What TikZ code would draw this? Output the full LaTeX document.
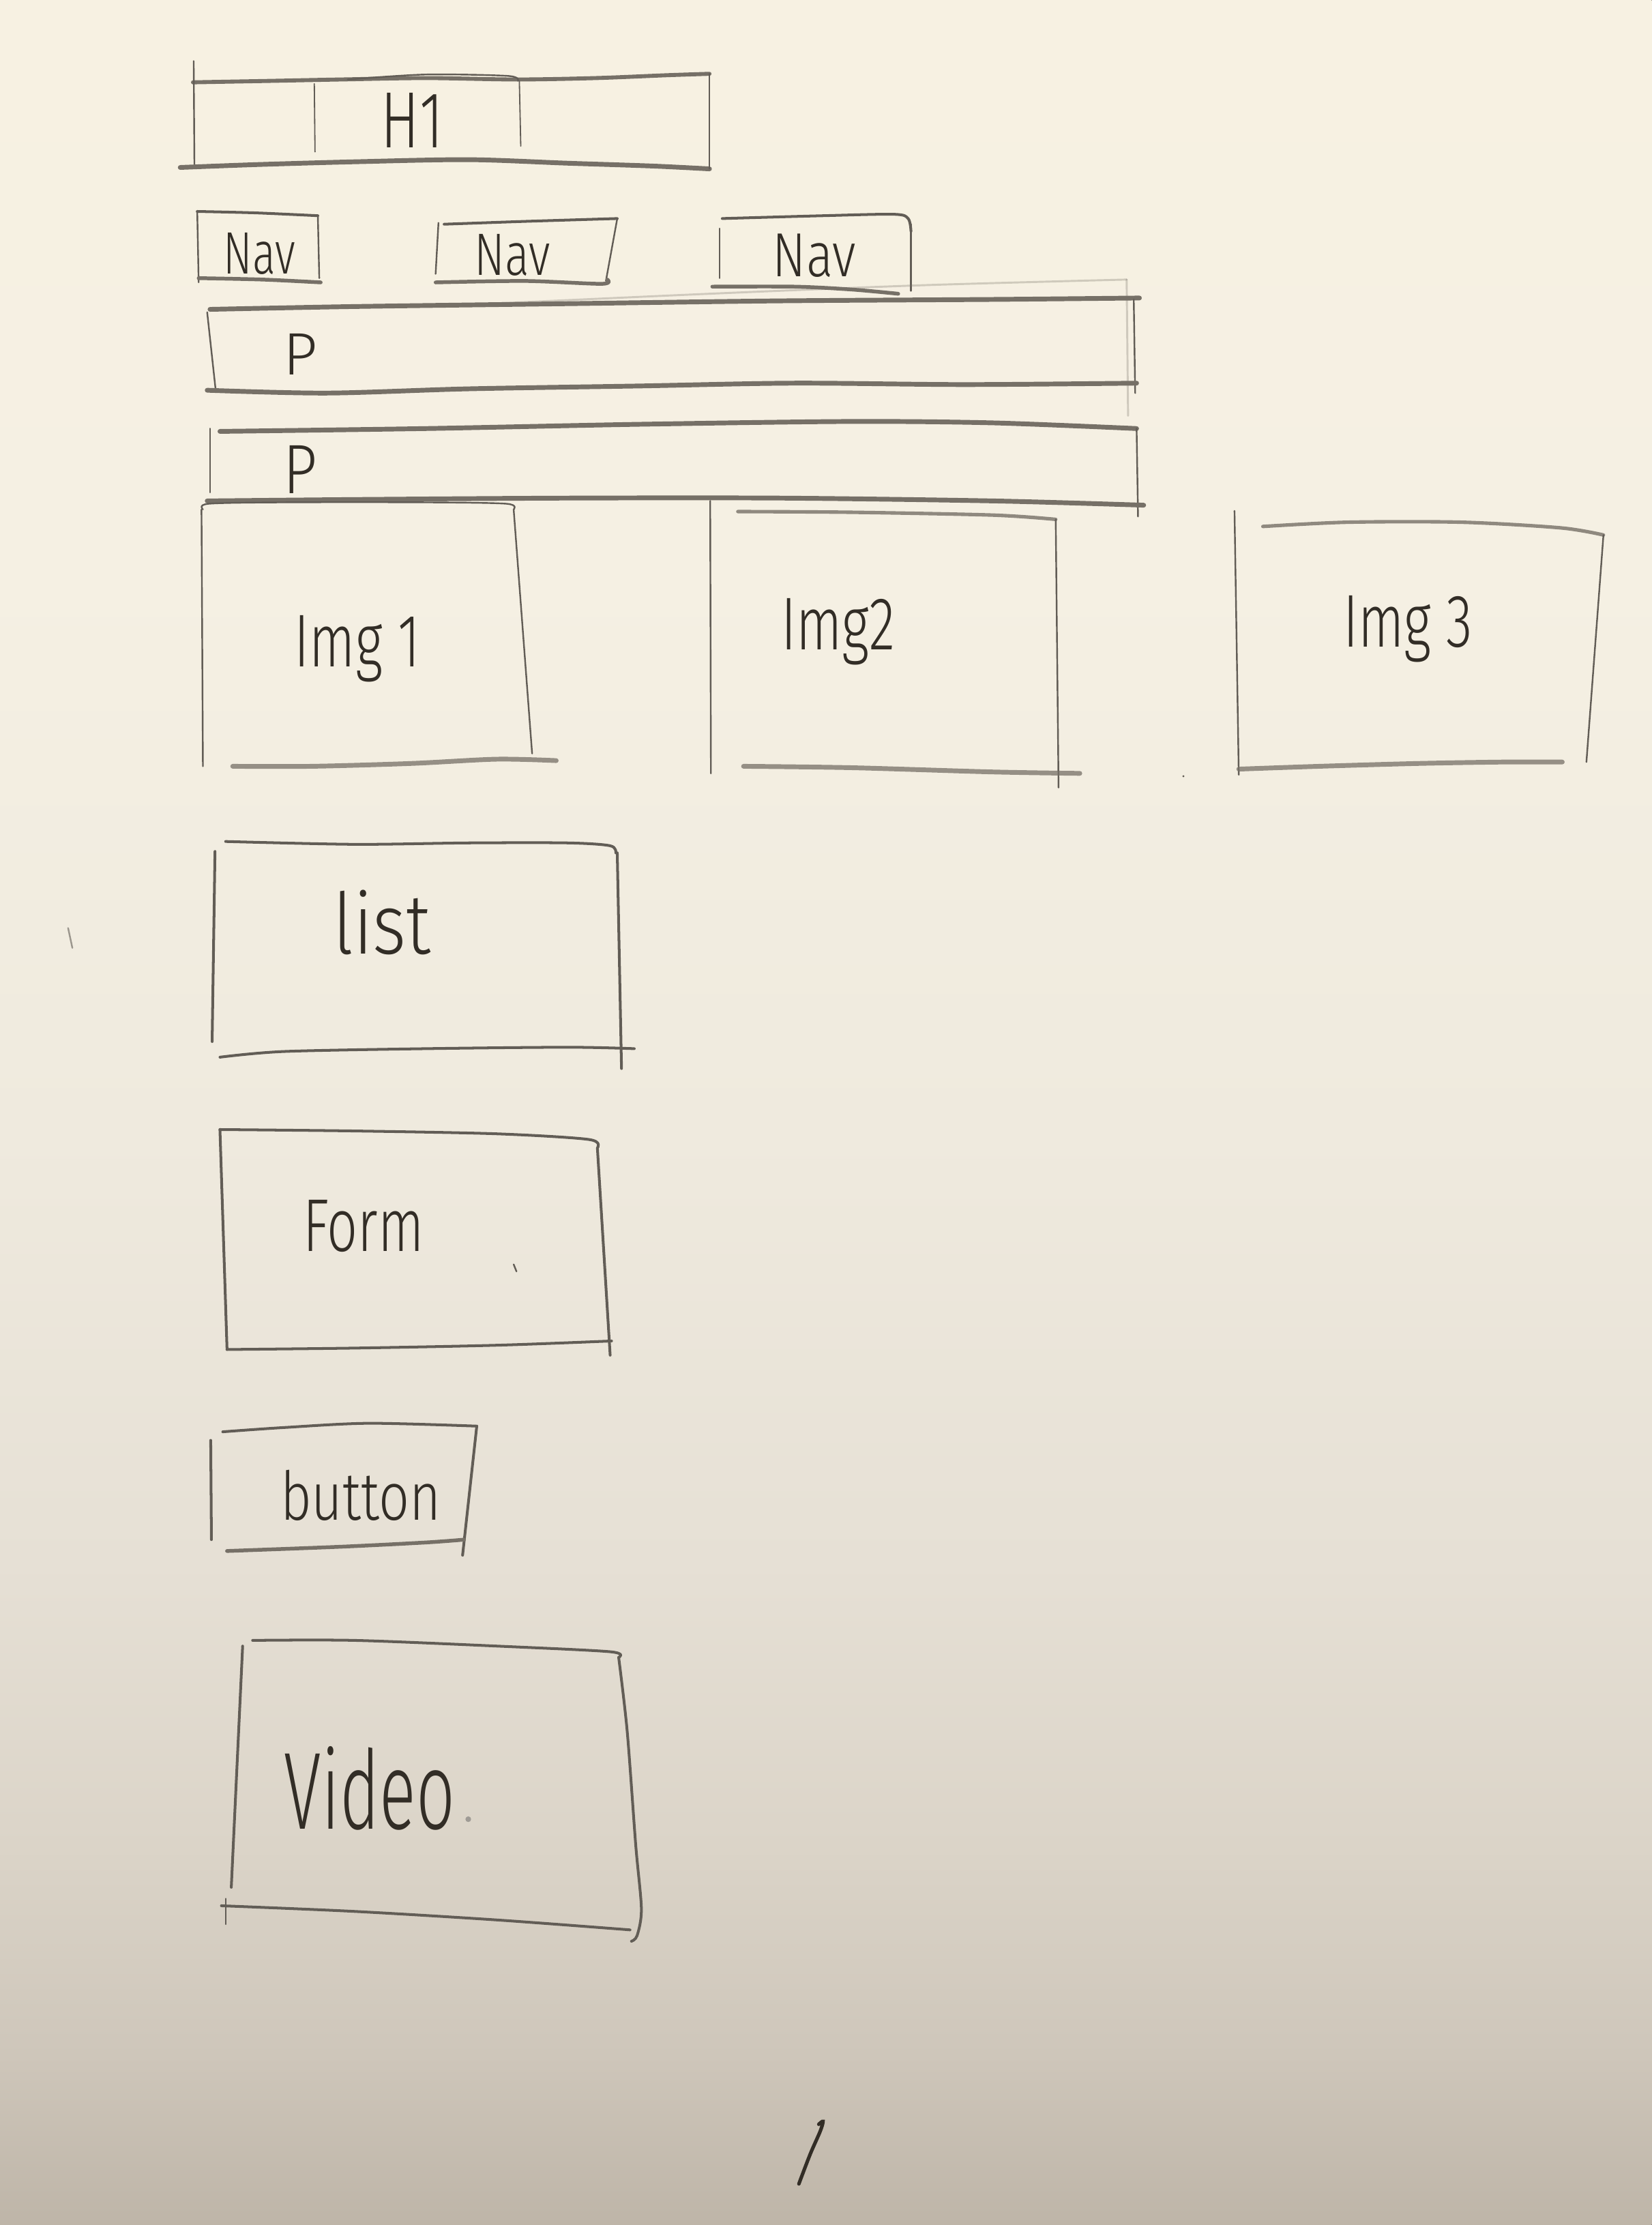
\documentclass[tikz,border=0pt]{standalone}
\usepackage{fontspec}
\setmainfont{Fira Sans Light}
\definecolor{ptop}{RGB}{247,241,226}
\definecolor{pa}{RGB}{245,240,227}
\definecolor{pb}{RGB}{239,234,222}
\definecolor{pc}{RGB}{230,224,213}
\definecolor{pd}{RGB}{219,212,200}
\definecolor{pe}{RGB}{206,198,186}
\definecolor{pbot}{RGB}{190,181,168}
\definecolor{pencil}{RGB}{118,112,103}
\definecolor{pencilthin}{RGB}{98,93,86}
\definecolor{ink}{RGB}{50,45,38}
\pgfdeclareverticalshading{paper}{100bp}{color(0bp)=(pbot); color(25bp)=(pbot); color(28.8bp)=(pe); color(33.5bp)=(pd); color(39.9bp)=(pc); color(49.5bp)=(pb); color(62.2bp)=(pa); color(75bp)=(ptop); color(100bp)=(ptop)}
\tikzset{
  hvy/.style={draw=pencil, line width=0.95pt, line cap=round, line join=round},
  med/.style={draw=pencilthin, line width=0.55pt, line cap=round, line join=round},
  thn/.style={draw=pencilthin, line width=0.33pt, line cap=round, line join=round},
  ghost/.style={draw=pencil, line width=0.4pt, opacity=0.3, line cap=round},
  hand/.style={text=ink, inner sep=0pt, anchor=base west},
}
\begin{document}
\begin{tikzpicture}[x=0.1mm, y=-0.1mm]
% paper
\useasboundingbox (0,0) rectangle (1164,1568);
\fill[shading=paper] (0,0) rectangle (1164,1568);

% ---- H1 header box
\draw[hvy, line width=0.8pt] plot[smooth] coordinates {(136,58) (190,57) (240,56) (300,55) (364,56) (420,55) (470,53) (500,52)};
\draw[thn] plot[smooth] coordinates {(245,56) (300,52.5) (358,53.5) (365,57)};
\draw[thn] (136.5,43) -- (137,116);
\draw[hvy] plot[smooth] coordinates {(127,118) (180,116) (250,114) (330,112.5) (400,115) (460,117) (500,119)};
\draw[thn] (500,52) -- (500,119);
\draw[thn, line width=0.25pt] (221.5,59) -- (222,107);
\draw[thn, line width=0.25pt] (366,57) -- (367,103);
\node[hand, font=\fontsize{16}{16}\selectfont, xscale=0.72] (h1) at (268,104) {H1};

% ---- navigation boxes
\draw[med] plot[smooth] coordinates {(139,149) (180,150) (224,152)};
\draw[thn] (139,149) -- (140,199);
\draw[thn] (224,152) -- (225,196);
\draw[hvy, line width=0.75pt] plot[smooth] coordinates {(140,196) (185,197) (226,199)};
\node[hand, font=\fontsize{12}{12}\selectfont, xscale=0.72] (nav1) at (157,193) {Nav};

\draw[med] plot[smooth] coordinates {(313,158) (370,156) (435,154)};
\draw[thn] (309,157) -- (307,193);
\draw[thn] (435,154) -- (427,198);
\draw[hvy, line width=0.75pt] plot[smooth] coordinates {(307,199) (370,198) (424,200) (428,197)};
\node[hand, font=\fontsize{12}{12}\selectfont, xscale=0.76] (nav2) at (334,194) {Nav};

\draw[med] plot[smooth] coordinates {(509,154) (580,152) (630,151) (640,154) (642,163)};
\draw[thn] (507,161) -- (507,196);
\draw[thn] (642,158) -- (642,205);
\draw[hvy, line width=0.75pt] plot[smooth] coordinates {(502,202) (560,202) (600,204) (633,207)};
\node[hand, font=\fontsize{12.5}{12}\selectfont, xscale=0.8] (nav3) at (544,195) {Nav};

% ---- paragraph boxes
\draw[ghost] plot[smooth] coordinates {(346,214) (500,207) (650,201) (794,197)};
\draw[ghost] (794,197) -- (795,293);
\draw[hvy] plot[smooth] coordinates {(148,218) (250,216) (400,214) (550,212) (700,211) (803,210)};
\draw[thn] (146,220) -- (152,275);
\draw[thn] (799,211) -- (800,277);
\draw[hvy] plot[smooth] coordinates {(146,275) (230,277) (330,274) (450,272) (560,270) (680,271) (801,270)};
\node[hand, font=\fontsize{12}{12}\selectfont] (p1) at (199,264) {P};

\draw[hvy] plot[smooth] coordinates {(155,304) (300,302) (450,299) (600,297) (700,298) (801,302)};
\draw[thn] (148,302) -- (148,347);
\draw[thn] (801,302) -- (802,364);
\draw[hvy] plot[smooth] coordinates {(146,353) (250,352) (400,351) (550,351) (700,353) (806,356)};
\node[hand, font=\fontsize{14}{14}\selectfont, xscale=0.85] (p2) at (199,348) {P};

% ---- image boxes
\draw[thn] plot[smooth] coordinates {(143,359) (147,355) (200,354) (300,354) (357,355) (362,359)};
\draw[thn] (142,359) -- (143,540);
\draw[thn] (362,359) -- (375,531);
\draw[hvy, draw opacity=0.75] plot[smooth] coordinates {(164,540) (220,540) (290,538) (350,535) (392,536)};
\node[hand, font=\fontsize{15}{15}\selectfont, xscale=0.72] (img1) at (207,470) {Img 1};

\draw[thn] (500.5,353) -- (501,545);
\draw[hvy, line width=0.7pt, draw opacity=0.8] plot[smooth] coordinates {(520,360.5) (600,361) (700,363) (744,366)};
\draw[thn] (744,366) -- (746,555);
\draw[hvy, draw opacity=0.75] plot[smooth] coordinates {(524,540) (600,541) (700,544) (761,545)};
\node[hand, font=\fontsize{15}{15}\selectfont, xscale=0.72] (img2) at (550,458) {Img2};

\draw[thn] (870,360) -- (873,546);
\draw[hvy, line width=0.7pt, draw opacity=0.8] plot[smooth] coordinates {(890,371) (950,368) (1030,368) (1100,372) (1130,377)};
\draw[thn] (1130,377) -- (1118,537);
\draw[hvy, draw opacity=0.75] plot[smooth] coordinates {(873,542) (930,540) (1000,538) (1060,537) (1101,537)};
\node[hand, font=\fontsize{15}{15}\selectfont, xscale=0.72] (img3) at (946,456) {Img 3};
\fill[pencilthin] (834,547) circle (0.8);

% ---- list box
\draw[med] plot[smooth] coordinates {(159,593) (250,595) (330,594) (400,594) (430,596) (434,601)};
\draw[med] (151.5,600) -- (149.5,734);
\draw[med] (435,601) -- (438,753);
\draw[med] plot[smooth] coordinates {(155,745) (200,741) (300,739) (400,738) (447,739)};
\node[hand, font=\fontsize{17}{17}\selectfont, xscale=0.85] (list) at (234,672) {list};

% ---- form box
\draw[med] plot[smooth] coordinates {(155,796) (250,797) (350,799) (415,803) (421,809)};
\draw[med] (155,796) -- (160,951);
\draw[med] (421,809) -- (430,955);
\draw[med] plot[smooth] coordinates {(160,951) (250,950) (350,948) (431,945)};
\node[hand, font=\fontsize{15}{15}\selectfont, xscale=0.72] (form) at (213,882) {Form};
\draw[thn] (362,891) -- (364,896);

% ---- button box
\draw[med] plot[smooth] coordinates {(157,1009) (200,1006) (260,1003) (336,1005)};
\draw[med] (148.5,1015) -- (149,1085);
\draw[med] (336,1005) -- (326,1096);
\draw[hvy, line width=0.75pt] plot[smooth] coordinates {(160,1093) (240,1090) (300,1087) (327,1085)};
\node[hand, font=\fontsize{13.5}{13.5}\selectfont, xscale=0.8] (button) at (197,1071) {button};

% ---- video box
\draw[med] plot[smooth] coordinates {(178,1156) (250,1156) (350,1160) (430,1164) (436,1168)};
\draw[med] (171,1160) -- (163,1330);
\draw[med] plot[smooth] coordinates {(436,1168) (442,1220) (448,1300) (452,1345) (449,1364) (445,1368)};
\draw[med] plot[smooth] coordinates {(156,1343) (250,1347) (350,1353) (444,1360)};
\draw[thn] (159,1338) -- (159,1356);
\node[hand, font=\fontsize{22}{22}\selectfont, xscale=0.62] (video) at (200,1289) {Video};
\fill[pencil!70] (330,1282) circle (2);

% ---- stray marks and page number
\draw[thn, opacity=0.6] (48,654) -- (51,668);
\draw[draw=ink, line width=0.7pt, line cap=round] plot[smooth] coordinates {(577,1497) (580,1495) (578,1502) (571,1518) (563,1539)};
\end{tikzpicture}
\end{document}
